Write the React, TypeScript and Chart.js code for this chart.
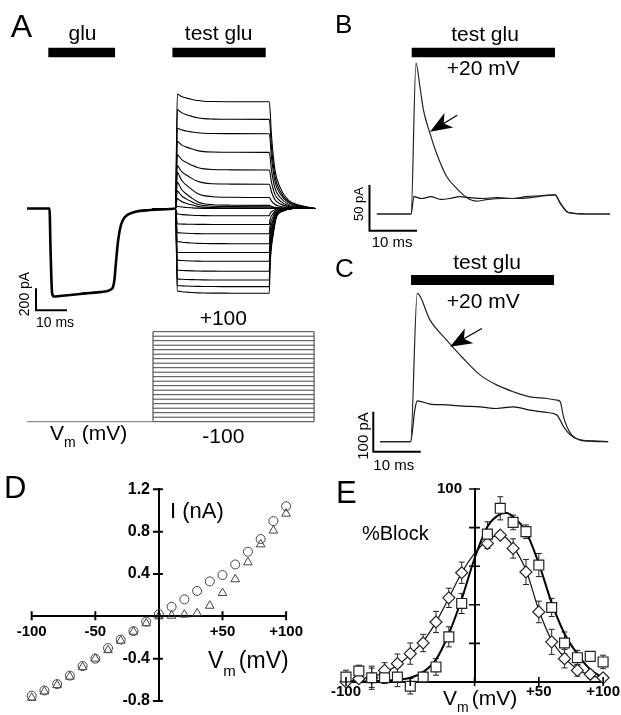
import React, { useEffect, useRef } from "react";
import { Chart, registerables } from "chart.js";

Chart.register(...registerables);

const FONT = '"Liberation Sans", Arial, Helvetica, sans-serif';

// ---------------- Panel D (I–V) : also used to build panel A families ----------------
const V_LEVELS = [-100, -90, -80, -70, -60, -50, -40, -30, -20, -10, 0, 10, 20, 30, 40, 50, 60, 70, 80, 90, 100];
const I_PEAK = [-0.75, -0.7, -0.64, -0.56, -0.47, -0.4, -0.3, -0.22, -0.14, -0.05, 0.02, 0.09, 0.16, 0.24, 0.33, 0.39, 0.49, 0.61, 0.73, 0.9, 1.04];
const I_STEADY = [-0.77, -0.71, -0.65, -0.57, -0.48, -0.4, -0.32, -0.23, -0.145, -0.066, 0.0, 0.006, 0.016, 0.028, 0.1, 0.22, 0.35, 0.51, 0.68, 0.81, 0.97];
const D_X_TICKS = [-100, -50, 0, 50, 100];
const D_X_LABELS = ["-100", "-50", "", "+50", "+100"];
const D_Y_TICKS = [-0.8, -0.4, 0, 0.4, 0.8, 1.2];
const D_Y_LABELS = ["-0.8", "-0.4", "", "0.4", "0.8", "1.2"];

// ---------------- Panel A : glu response (ms, nA) ----------------
const GLU_T = [0, 7.26, 7.6, 8.1, 8.7, 10.6, 17.1, 23.5, 27.4, 28.2, 28.7, 29.4, 30.3, 31.6, 34.2, 39.7, 46.1, 47.7];
const GLU_I = [0, 0, -0.38, -0.77, -0.8, -0.795, -0.777, -0.76, -0.73, -0.65, -0.49, -0.29, -0.15, -0.077, -0.036, -0.014, -0.005, 0];
// test-glu family time course (ms) and relative shape
const PRE_T = [40.6, 47.9];
const PULSE_T = [48.5, 49.3, 50.0, 51.5, 53.0, 55.0, 57.0, 60.0, 66.0, 77.9];
const PULSE_FRAC = [1, 0.82, 0.66, 0.48, 0.33, 0.16, 0.074, 0.03, 0.01, 0];
const TAIL_POS_T = [78.15, 78.9, 80.0, 81.6, 84.3, 88, 93];
const TAIL_POS = [1, 0.67, 0.36, 0.2, 0.078, 0.03, 0];
const TAIL_NEG_T = [78.15, 78.4, 79.5, 80.5, 82.7, 85.8, 93];
const TAIL_NEG = [1, 0.69, 0.29, 0.1, 0.03, 0, 0];
const GLU_BAR = [6.87, 28.4];
const TEST_BAR_A = [46.9, 77.0];
const BAR_LEVEL_A = 1.418;
const MARK_T = [48.4, 76.8];
const MARK_LEVEL = 1.266;
const SB_A = { t: 2.9, i: -0.925, dt: 10, di: 0.2 };

// ---------------- Panel A : voltage protocol (ms, mV) ----------------
const STEP_ON = 40.65;
const STEP_OFF = 92.6;
const HOLD_V = -100;

// ---------------- Panel B (ms, pA) ----------------
const B_T1_T = [-7.4, -0.2, 0.84, 1.68, 2.4, 3.8, 5.2, 7.3, 9.4, 11.5, 13.5, 16, 19, 22, 25, 28, 30.1, 31.2, 32.6, 34, 38, 41.7];
const B_T1 = [0, 0, 165, 139, 114, 88, 66, 41, 28, 18, 14, 16, 17, 17, 18, 20, 21, 12, 2.5, 0.8, 0, 0];
const B_T2_T = [-7.4, -0.2, 0.4, 2, 4, 6, 8, 10, 12, 15, 18, 21, 24, 27, 30.1, 31.2, 32.6, 34, 38, 41.7];
const B_T2 = [0, 0, 19, 17, 19, 16, 17, 19, 18, 17, 18, 17, 19, 20, 21, 12, 2.5, 0.8, 0, 0];
const B_BAR = [-0.06, 30.1];
const B_BAR_LEVEL = 176.7;
const SB_B = { t: -8.95, i: -18.3, dt: 10, di: 50 };
const B_ARROW = { from: [9.5, 108], to: [3.8, 90] };

// ---------------- Panel C (ms, pA) ----------------
const C_T1_T = [-6.7, -0.3, 1.1, 3.8, 7.3, 10.8, 14.3, 17.8, 21.3, 24.8, 28.4, 30.5, 31.2, 31.9, 33.3, 35.0, 38.2, 41.3];
const C_T1 = [0, 0, 371, 304, 254, 208, 167, 142, 125, 112, 108, 104, 100, 62, 22, 6, 2, 0];
const C_T2_T = [-6.7, -0.3, 0.6, 1.1, 3.8, 7.3, 10.8, 14.3, 17.8, 21.3, 24.8, 28.4, 30.5, 31.9, 33.3, 35.4, 38.2, 41.3];
const C_T2 = [0, 0, 80, 102, 94, 92, 89, 87, 83, 87, 79, 73, 67, 38, 17, 4, 1, 0];
const C_BAR = [-0.2, 29.9];
const C_BAR_LEVEL = 404;
const SB_C = { t: -8.15, i: -25, dt: 10, di: 100 };
const C_ARROW = { from: [14.7, 283], to: [8.0, 237.5] };

// ---------------- Panel E (%Block) ----------------
const E_V = [-100, -90, -80, -70, -60, -50, -40, -30, -20, -10, 10, 20, 30, 40, 50, 60, 70, 80, 90, 100];
const SQ = [2.6, 5.7, 2.2, 2.2, 2.6, -2.2, 2.6, 7.8, 23.4, 40.7, 76.6, 90, 82.7, 77.9, 60.6, 38.6, 20.2, 12.6, 13.3, 10.4];
const SQ_ERR = [3.5, 3, 6, 3, 5, 4, 2.6, 4.3, 5.2, 5.2, 6.4, 6, 3.8, 3.5, 6, 4.7, 5.7, 3.8, 2.2, 3.5];
const DI = [0, 1.7, 2.2, 6, 9.5, 14.7, 20.2, 31.1, 43.6, 56.6, 71.8, 76.1, 69.2, 57, 36.3, 20.8, 12.1, 6, 4, 2.2];
const DI_ERR = [1, 1.5, 5, 4, 5, 5.5, 4.5, 5.5, 5, 5.5, 2.6, 1.7, 5, 6.5, 5.6, 6.5, 4.8, 3, 2, 1.5];
const E_FIT_V = [-100, -90, -80, -70, -60, -50, -40, -30, -20, -10, 0, 10, 20, 25, 30, 40, 50, 60, 70, 80, 90, 100];
const SQ_FIT = [0.3, 0.3, 0.5, 0.7, 1.2, 2.2, 5.2, 11.6, 25, 43, 64, 80.5, 87, 87.6, 85.6, 77.9, 61.4, 41, 25, 14.5, 6.5, 2.2];
const DI_FIT = [0.5, 1.2, 2.6, 5, 8.7, 14.2, 21, 31, 43.6, 56.6, 66.6, 73.5, 76.1, 74.5, 70.4, 58, 37.2, 21.6, 12.6, 6.6, 3.5, 1.7];
const E_X_TICKS = [-100, -50, 0, 50, 100];
const E_X_LABELS = ["-100", "", "", "+50", "+100"];
const E_Y_TICKS = [0, 20, 40, 60, 80, 100];
const E_Y_LABELS = ["", "", "", "", "", "100"];

// ---------------- helpers ----------------
type Pt = { x: number; y: number };
const pts = (xs: number[], ys: number[]): Pt[] => xs.map((x, i) => ({ x, y: ys[i] }));

type Label = {
  x: number; y: number; text: string; size: number; bold?: boolean;
  align?: CanvasTextAlign; rot?: number; sub?: string; subGap?: number; after?: string; subSize?: number; subDrop?: number;
};
type Overlay = {
  labels?: Label[];
  arrows?: { from: number[]; to: number[] }[];
  errors?: { xs: number[]; ys: number[]; err: number[] }[];
  ticks?: { xUp: number; xDown: number; yLeft: number; yRight: number; width: number };
};

function drawLabel(ctx: CanvasRenderingContext2D, l: Label) {
  const font = (s: number) => `${l.bold ? "bold " : ""}${s}px ${FONT}`;
  ctx.save();
  ctx.translate(l.x, l.y);
  if (l.rot) ctx.rotate(l.rot);
  ctx.fillStyle = "#000";
  ctx.textBaseline = "alphabetic";
  ctx.font = font(l.size);
  if (l.sub !== undefined) {
    ctx.textAlign = "left";
    ctx.fillText(l.text, 0, 0);
    let w = ctx.measureText(l.text).width;
    ctx.font = font(l.subSize ?? Math.round(l.size * 0.66));
    ctx.fillText(l.sub, w, l.subDrop ?? l.size * 0.3);
    w += ctx.measureText(l.sub).width + (l.subGap ?? 0);
    ctx.font = font(l.size);
    ctx.fillText(l.after ?? "", w, 0);
  } else {
    ctx.textAlign = l.align ?? "left";
    ctx.fillText(l.text, 0, 0);
  }
  ctx.restore();
}

function makeOverlay(ov: Overlay) {
  return {
    id: "overlay",
    beforeDatasetsDraw(chart: any) {
      if (!ov.errors) return;
      const ctx = chart.ctx;
      const xs = chart.scales.x;
      const ys = chart.scales.y;
      ctx.save();
      ctx.strokeStyle = "#222";
      ctx.lineWidth = 1;
      for (const s of ov.errors) {
        s.xs.forEach((v, i) => {
          const px = xs.getPixelForValue(v);
          const lo = ys.getPixelForValue(s.ys[i] - s.err[i]);
          const hi = ys.getPixelForValue(s.ys[i] + s.err[i]);
          ctx.beginPath();
          ctx.moveTo(px, lo);
          ctx.lineTo(px, hi);
          ctx.moveTo(px - 3, hi);
          ctx.lineTo(px + 3, hi);
          ctx.moveTo(px - 3, lo);
          ctx.lineTo(px + 3, lo);
          ctx.stroke();
        });
      }
      ctx.restore();
    },
    afterDraw(chart: any) {
      const ctx = chart.ctx;
      const xs = chart.scales.x;
      const ys = chart.scales.y;
      if (ov.ticks) {
        const t = ov.ticks;
        const y0 = ys.getPixelForValue(0);
        const x0 = xs.getPixelForValue(0);
        ctx.save();
        ctx.strokeStyle = "#000";
        ctx.lineWidth = t.width;
        ctx.beginPath();
        xs.ticks.forEach((tk: any) => {
          const px = xs.getPixelForValue(tk.value);
          ctx.moveTo(px, y0 - t.xUp);
          ctx.lineTo(px, y0 + t.xDown);
        });
        ys.ticks.forEach((tk: any) => {
          const py = ys.getPixelForValue(tk.value);
          ctx.moveTo(x0 - t.yLeft, py);
          ctx.lineTo(x0 + t.yRight, py);
        });
        ctx.stroke();
        ctx.restore();
      }
      if (ov.arrows) {
        for (const a of ov.arrows) {
          const x1 = xs.getPixelForValue(a.from[0]);
          const y1 = ys.getPixelForValue(a.from[1]);
          const x2 = xs.getPixelForValue(a.to[0]);
          const y2 = ys.getPixelForValue(a.to[1]);
          const ang = Math.atan2(y2 - y1, x2 - x1);
          const c = Math.cos(ang);
          const s = Math.sin(ang);
          const L = 22, W = 8.5, N = 16;
          ctx.save();
          ctx.strokeStyle = "#000";
          ctx.fillStyle = "#000";
          ctx.lineWidth = 1.3;
          ctx.beginPath();
          ctx.moveTo(x1, y1);
          ctx.lineTo(x2 - N * c, y2 - N * s);
          ctx.stroke();
          ctx.beginPath();
          ctx.moveTo(x2, y2);
          ctx.lineTo(x2 - L * c - W * s, y2 - L * s + W * c);
          ctx.lineTo(x2 - N * c, y2 - N * s);
          ctx.lineTo(x2 - L * c + W * s, y2 - L * s - W * c);
          ctx.closePath();
          ctx.fill();
          ctx.restore();
        }
      }
      if (ov.labels) ov.labels.forEach((l) => drawLabel(ctx, l));
    },
  };
}

function lineDs(data: Pt[], width: number, color = "#000", smooth = true, extra: any = {}) {
  return {
    data,
    showLine: true,
    borderColor: color,
    borderWidth: width,
    pointRadius: 0,
    pointHoverRadius: 0,
    fill: false,
    clip: false,
    tension: 0,
    cubicInterpolationMode: smooth ? "monotone" : "default",
    borderCapStyle: "butt",
    borderJoinStyle: "round",
    ...extra,
  };
}

function markerDs(data: Pt[], style: string, radius: number, fillColor: string, color: string, width: number, extra: any = {}) {
  return {
    data,
    showLine: false,
    pointStyle: style,
    pointRadius: radius,
    pointHoverRadius: radius,
    pointBackgroundColor: fillColor,
    pointBorderColor: color,
    pointBorderWidth: width,
    clip: false,
    ...extra,
  };
}

function scaleBar(sb: { t: number; i: number; dt: number; di: number }): Pt[] {
  return [
    { x: sb.t, y: sb.i + sb.di },
    { x: sb.t, y: sb.i },
    { x: sb.t + sb.dt, y: sb.i },
  ];
}

function hiddenScales(xr: number[], yr: number[]) {
  return {
    x: { type: "linear", display: false, min: xr[0], max: xr[1] },
    y: { type: "linear", display: false, min: yr[0], max: yr[1] },
  };
}

function makeConfig(datasets: any[], scales: any, pad: any, ov: Overlay) {
  return {
    type: "scatter",
    data: { datasets },
    options: {
      responsive: false,
      animation: false,
      devicePixelRatio: 1,
      events: [],
      layout: { padding: pad, autoPadding: false },
      plugins: { legend: { display: false }, tooltip: { enabled: false } },
      scales,
    },
    plugins: [makeOverlay(ov)],
  };
}

function testTrace(peak: number, steady: number): Pt[] {
  const out: Pt[] = PRE_T.map((t) => ({ x: t, y: 0 }));
  PULSE_T.forEach((t, k) => out.push({ x: t, y: steady + (peak - steady) * PULSE_FRAC[k] }));
  const neg = steady < 0;
  const tt = neg ? TAIL_NEG_T : TAIL_POS_T;
  const tf = neg ? TAIL_NEG : TAIL_POS;
  tt.forEach((t, k) => out.push({ x: t, y: steady * tf[k] }));
  return out;
}

// ---------------- panel configs ----------------
function configA1() {
  const ds: any[] = [];
  ds.push(lineDs(pts(GLU_T, GLU_I), 2.6));
  V_LEVELS.forEach((_, i) => ds.push(lineDs(testTrace(I_PEAK[i], I_STEADY[i]), 1.1)));
  ds.push(lineDs(pts(GLU_BAR, [BAR_LEVEL_A, BAR_LEVEL_A]), 9.6, "#000", false));
  ds.push(lineDs(pts(TEST_BAR_A, [BAR_LEVEL_A, BAR_LEVEL_A]), 9.6, "#000", false));
  ds.push(lineDs(scaleBar(SB_A), 2, "#000", false, { borderJoinStyle: "miter" }));
  ds.push(markerDs([{ x: MARK_T[0], y: MARK_LEVEL }], "circle", 3.8, "#fff", "#000", 1));
  ds.push(markerDs([{ x: MARK_T[1], y: MARK_LEVEL }], "triangle", 4.5, "#fff", "#000", 1));
  return makeConfig(ds, hiddenScales([0, 93], [-0.8, 1.2]), { left: 27, right: 14.7, top: 76.5, bottom: 33.5 }, {
    labels: [
      { x: 10.7, y: 36.7, text: "A", size: 32 },
      { x: 82.5, y: 40, text: "glu", size: 21, align: "center" },
      { x: 218.7, y: 40, text: "test glu", size: 21, align: "center" },
      { x: 29, y: 294, text: "200 pA", size: 14, align: "center", rot: -Math.PI / 2 },
      { x: 36, y: 326.7, text: "10 ms", size: 14 },
    ],
  });
}

function configA2() {
  const ds: any[] = [];
  V_LEVELS.forEach((v) => ds.push(lineDs(pts([STEP_ON, STEP_OFF], [v, v]), 1, "#444", false)));
  ds.push(lineDs(pts([0, STEP_ON], [HOLD_V, HOLD_V]), 1, "#777", false));
  ds.push(lineDs(pts([STEP_ON, STEP_ON], [V_LEVELS[0], V_LEVELS[V_LEVELS.length - 1]]), 1, "#333", false));
  ds.push(lineDs(pts([STEP_OFF, STEP_OFF], [V_LEVELS[0], V_LEVELS[V_LEVELS.length - 1]]), 1, "#333", false));
  return makeConfig(ds, hiddenScales([0, 93], [-100, 100]), { left: 27, right: 14.7, top: 31.7, bottom: 38.3 }, {
    labels: [
      { x: 223.3, y: 25, text: "+100", size: 21, align: "center" },
      { x: 223.3, y: 143.3, text: "-100", size: 21, align: "center" },
      { x: 50, y: 140, text: "V", size: 21, sub: "m", subSize: 14, subDrop: 7, subGap: 6, after: "(mV)" },
    ],
  });
}

function configB() {
  const ds: any[] = [];
  ds.push(lineDs(pts(B_T1_T, B_T1), 1.2, "#222"));
  ds.push(lineDs(pts(B_T2_T, B_T2), 1.2, "#111"));
  ds.push(lineDs(pts(B_BAR, [B_BAR_LEVEL, B_BAR_LEVEL]), 9.6, "#000", false));
  ds.push(lineDs(scaleBar(SB_B), 2, "#000", false, { borderJoinStyle: "miter" }));
  return makeConfig(ds, hiddenScales([-10, 42], [-20, 180]), { left: 34.5, right: 9.5, top: 49.5, bottom: 17.7 }, {
    arrows: [B_ARROW],
    labels: [
      { x: 5, y: 33.3, text: "B", size: 26 },
      { x: 155, y: 40.7, text: "test glu", size: 21, align: "center" },
      { x: 153.3, y: 75, text: "+20 mV", size: 21, align: "center" },
      { x: 33.3, y: 204, text: "50 pA", size: 13, align: "center", rot: -Math.PI / 2 },
      { x: 41.7, y: 246.7, text: "10 ms", size: 15 },
    ],
  });
}

function configC() {
  const ds: any[] = [];
  ds.push(lineDs(pts(C_T1_T, C_T1), 1.2, "#222"));
  ds.push(lineDs(pts(C_T2_T, C_T2), 1.2, "#111"));
  ds.push(lineDs(pts(C_BAR, [C_BAR_LEVEL, C_BAR_LEVEL]), 10, "#000", false));
  ds.push(lineDs(scaleBar(SB_C), 2, "#000", false, { borderJoinStyle: "miter" }));
  return makeConfig(ds, hiddenScales([-10, 42], [-30, 420]), { left: 34.5, right: 9.5, top: 23.7, bottom: 21.3 }, {
    arrows: [C_ARROW],
    labels: [
      { x: 5, y: 26.7, text: "C", size: 26 },
      { x: 157, y: 19.3, text: "test glu", size: 21, align: "center" },
      { x: 153.3, y: 58.3, text: "+20 mV", size: 21, align: "center" },
      { x: 38, y: 186, text: "100 pA", size: 15, align: "center", rot: -Math.PI / 2 },
      { x: 43.3, y: 220, text: "10 ms", size: 15 },
    ],
  });
}

function axisScales(xr: number[], yr: number[], xt: number[], xl: string[], yt: number[], yl: string[], ySpaces: string, xFont: number, yFont: number, xPad: number) {
  return {
    x: {
      type: "linear",
      min: xr[0],
      max: xr[1],
      position: { y: 0 },
      grid: { display: false, drawTicks: false },
      border: { display: true, color: "#000", width: 2 },
      afterBuildTicks: (scale: any) => {
        scale.ticks = xt.map((v) => ({ value: v }));
      },
      ticks: {
        autoSkip: false,
        maxRotation: 0,
        padding: xPad,
        color: "#000",
        font: { family: FONT, size: xFont, weight: "bold" },
        callback: (_v: any, i: number) => xl[i],
      },
    },
    y: {
      type: "linear",
      min: yr[0],
      max: yr[1],
      position: { x: 0 },
      grid: { display: false, drawTicks: false },
      border: { display: true, color: "#000", width: 2 },
      afterBuildTicks: (scale: any) => {
        scale.ticks = yt.map((v) => ({ value: v }));
      },
      ticks: {
        autoSkip: false,
        color: "#000",
        font: { family: FONT, size: yFont, weight: "bold" },
        callback: (_v: any, i: number) => (yl[i] ? yl[i] + ySpaces : ""),
      },
    },
  };
}

function configD() {
  const ds: any[] = [];
  ds.push(markerDs(pts(V_LEVELS, I_PEAK), "circle", 4.5, "rgba(0,0,0,0)", "#444", 1));
  ds.push(markerDs(pts(V_LEVELS, I_STEADY), "triangle", 5, "rgba(0,0,0,0)", "#444", 1));
  const scales = axisScales([-100, 100], [-0.8, 1.2], D_X_TICKS, D_X_LABELS, D_Y_TICKS, D_Y_LABELS, "  ", 15, 16, 7);
  return makeConfig(ds, scales, { left: 31.7, right: 18.3, top: 19.3, bottom: 14 }, {
    ticks: { xUp: 5, xDown: 4, yLeft: 6, yRight: 4, width: 2 },
    labels: [
      { x: 4, y: 28.3, text: "D", size: 31 },
      { x: 170, y: 48.3, text: "I (nA)", size: 22 },
      { x: 208, y: 198.3, text: "V", size: 23, sub: "m", subSize: 15, subDrop: 8, subGap: 3, after: "(mV)" },
    ],
  });
}

function configE() {
  const ds: any[] = [];
  ds.push(markerDs(pts(E_V, SQ), "rect", 7, "#fff", "#222", 1.2, { order: 0 }));
  ds.push(markerDs(pts(E_V, DI), "rectRot", 6, "#fff", "#222", 1.2, { order: 1 }));
  ds.push(lineDs(pts(E_FIT_V, SQ_FIT), 2, "#000", true, { order: 2 }));
  ds.push(lineDs(pts(E_FIT_V, DI_FIT), 1.2, "#111", true, { order: 3 }));
  const scales = axisScales([-100, 100], [0, 100], E_X_TICKS, E_X_LABELS, E_Y_TICKS, E_Y_LABELS, "   ", 15, 15, 1);
  return makeConfig(ds, scales, { left: 36, right: 15, top: 19, bottom: 33 }, {
    ticks: { xUp: 5, xDown: 4, yLeft: 5.5, yRight: 5.5, width: 1.6 },
    errors: [
      { xs: E_V, ys: SQ, err: SQ_ERR },
      { xs: E_V, ys: DI, err: DI_ERR },
    ],
    labels: [
      { x: 26, y: 33.3, text: "E", size: 31 },
      { x: 52, y: 70, text: "%Block", size: 20 },
      { x: 133, y: 235, text: "V", size: 21, sub: "m", subSize: 14, subDrop: 7, subGap: 3, after: "(mV)" },
    ],
  });
}

const PANELS = [
  { key: "A1", left: 0, top: 0, width: 330, height: 330, make: configA1 },
  { key: "A2", left: 0, top: 300, width: 330, height: 160, make: configA2 },
  { key: "B", left: 330, top: 0, width: 291, height: 250, make: configB },
  { key: "C", left: 330, top: 250, width: 291, height: 225, make: configC },
  { key: "D", left: 0, top: 470, width: 310, height: 245, make: configD },
  { key: "E", left: 310, top: 470, width: 311, height: 245, make: configE },
];

function ChartPanel({ p }: { p: (typeof PANELS)[number] }) {
  const ref = useRef<HTMLCanvasElement>(null);
  useEffect(() => {
    const chart = new Chart(ref.current as HTMLCanvasElement, p.make() as any);
    return () => chart.destroy();
  }, [p]);
  return (
    <canvas
      ref={ref}
      width={p.width}
      height={p.height}
      style={{ position: "absolute", left: p.left, top: p.top, width: p.width, height: p.height, display: "block" }}
    />
  );
}

export default function App() {
  return (
    <div style={{ position: "absolute", left: 0, top: 0, width: 621, height: 715, background: "#fff", overflow: "hidden" }}>
      {PANELS.map((p) => (
        <ChartPanel key={p.key} p={p} />
      ))}
    </div>
  );
}
